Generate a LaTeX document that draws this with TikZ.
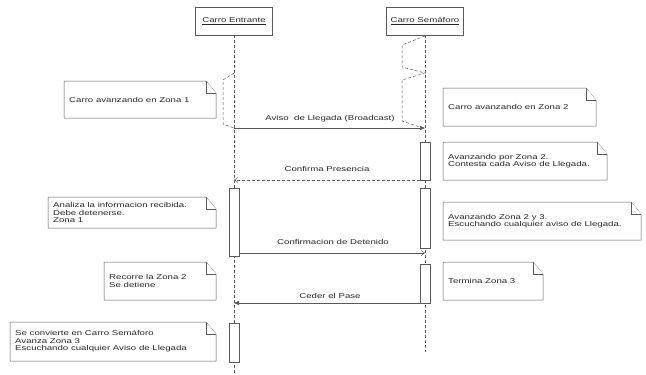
\documentclass[tikz,border=0pt]{standalone}
\usepackage{fontspec}
\setmainfont[FakeStretch=1.38]{Liberation Sans}
\usetikzlibrary{arrows.meta}
\definecolor{ln}{gray}{0.35}
\definecolor{tx}{gray}{0.15}
\tikzset{
  notedraw/.style={draw=ln, line width=0.5pt, fill=white},
  notetext/.style={anchor=west, align=left, inner sep=0pt, text=tx, font=\fontsize{7}{7.4}\selectfont},
  headbox/.style={draw=ln, line width=0.5pt, minimum width=77pt, minimum height=28pt, inner sep=0pt, text=tx, font=\fontsize{7}{8}\selectfont},
  lifeline/.style={draw=ln, line width=0.5pt, dash pattern=on 3pt off 2pt},
  actbar/.style={draw=ln, line width=0.5pt, fill=white},
  msg/.style={draw=ln, line width=0.5pt},
  msglabel/.style={inner sep=0pt, text=tx, font=\fontsize{7}{8}\selectfont},
  filledtip/.style={-{Triangle[length=5pt,width=4pt]}},
  opentip/.style={-{Straight Barb[length=3.5pt,width=5pt]}}
}
\newcommand\umlnote[6]{%
  \draw[notedraw] (#2,#3) -- (#4-10,#3) -- (#4,#3+12) -- (#4,#5) -- (#2,#5) -- cycle;
  \draw[notedraw] (#4-10,#3) -- (#4-10,#3+12) -- (#4,#3+12);
  \node[notetext] (#1) at (#2+5,{(#3+#5)/2}) {#6};
}
\newcommand\actbox[5]{%
  \draw[actbar] (#2-5,#3) rectangle (#2+5,#4);
  \coordinate (#1) at (#2,#3);
  \coordinate (#1e) at (#2,#4);
  \coordinate (#1l) at (#2-5,#5);
  \coordinate (#1r) at (#2+5,#5);
}
\begin{document}
\begin{tikzpicture}[x=1pt,y=-1pt]
\useasboundingbox (0,0) rectangle (646,375);
% heads
\node[headbox] (ent) at (234,21) {\underline{Carro Entrante}};
\node[headbox] (sem) at (425,21) {\underline{Carro Semáforo}};
\coordinate (entEnd) at (234,375);
\coordinate (semEnd) at (425,352);
\draw[lifeline] (ent.south) -- (entEnd);
\draw[lifeline] (sem.south) -- (semEnd);
% zigzag (suspended) segments
\draw[lifeline] (234,73) -- (223,80) -- (223,124) -- (234,128);
\draw[lifeline] (425,36) -- (402,45) -- (402,67) -- (425,73) -- (402,80) -- (402,121) -- (423,128);
% activation bars
\actbox{sa}{425}{142}{180}{180}
\actbox{ea}{234}{188}{256}{253}
\actbox{sb}{425}{188}{248}{253}
\actbox{sc}{425}{264}{303}{303}
\actbox{eb}{234}{323}{362}{340}
% message endpoints
\coordinate (m1s) at (234,128);
\coordinate (m1e) at (425,128);
\coordinate (m2e) at (234,180);
\coordinate (m3e) at (425,253);
\coordinate (m4e) at (234,303);
% messages
\draw[msg, filledtip] (m1s) -- (m1e);
\node[msglabel] (l1) at (330,119) {Aviso\ \ de Llegada (Broadcast)};
\draw[msg, opentip, dash pattern=on 3pt off 2pt] (sal) -- (m2e);
\node[msglabel] (l2) at (327,169) {Confirma Presencia};
\draw[msg, opentip] (ear) -- (m3e);
\node[msglabel] (l3) at (333,242) {Confirmacion de Detenido};
\draw[msg, filledtip] (scl) -- (m4e);
\node[msglabel] (l4) at (330,296) {Ceder el Pase};
% notes
\umlnote{n1}{64}{81}{216}{118}{Carro avanzando en Zona 1}
\umlnote{n2}{443}{88}{596}{126}{Carro avanzando en Zona 2}
\umlnote{n3}{443}{142}{607}{180}{Avanzando por Zona 2.\\Contesta cada Aviso de Llegada.}
\umlnote{n4}{48}{197}{216}{228}{Analiza la informacion recibida.\\Debe detenerse.\\Zona 1}
\umlnote{n5}{443}{202}{641}{240}{Avanzando Zona 2 y 3.\\Escuchando cualquier aviso de Llegada.}
\umlnote{n6}{104}{262}{216}{300}{Recorre la Zona 2\\Se detiene}
\umlnote{n7}{443}{262}{543}{300}{Termina Zona 3}
\umlnote{n8}{10}{322}{216}{361}{Se convierte en Carro Semáforo\\Avanza Zona 3\\Escuchando cualquier Aviso de Llegada}
\end{tikzpicture}
\end{document}
